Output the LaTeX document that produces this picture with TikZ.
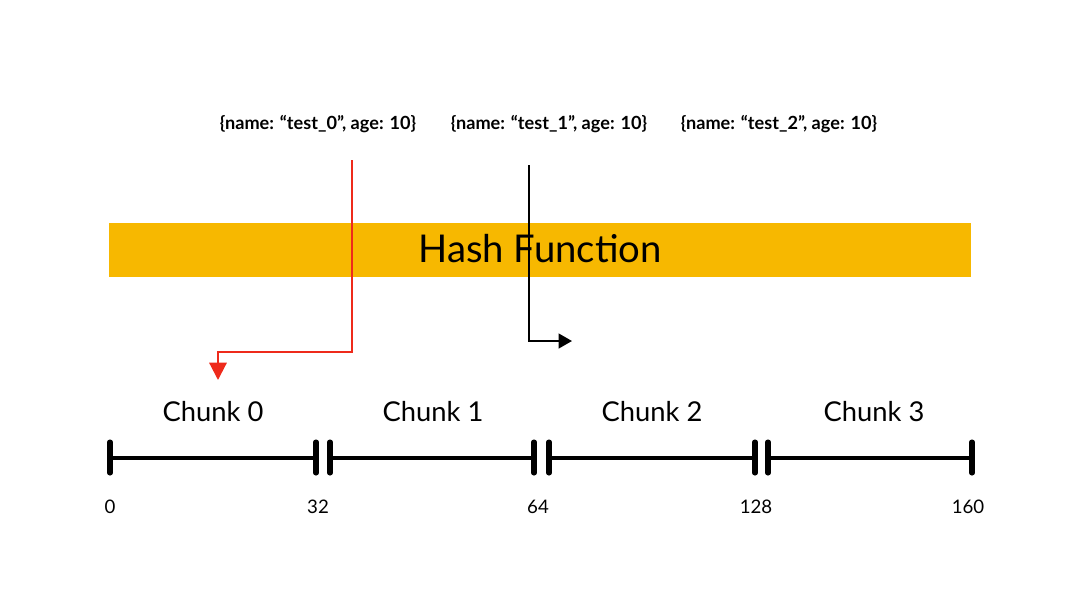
\documentclass[tikz,border=0pt]{standalone}
\usepackage{fontspec}
\setmainfont{Lato}
\usetikzlibrary{arrows.meta}
\definecolor{hashyellow}{HTML}{F7B800}
\definecolor{arrowred}{HTML}{EE2A1B}
\tikzset{
  rec/.style={font=\fontsize{13.6}{15}\selectfont\bfseries, inner sep=0pt, anchor=center},
  chunklbl/.style={font=\fontsize{20.5}{23}\selectfont, inner sep=0pt},
  numlbl/.style={font=\fontsize{14}{16}\selectfont, inner sep=0pt},
  bar/.style={line width=2.8pt, line cap=round},
  tick/.style={line width=3.8pt, line cap=round},
  flow/.style={line width=1.6pt},
}
\begin{document}
\begin{tikzpicture}[x=0.75pt,y=-0.75pt]
\useasboundingbox (0,0) rectangle (1080,608);
% records
\node[rec] (r0) at (318,124) {\{name: “test\_0”, age: 10\}};
\node[rec] (r1) at (549,124) {\{name: “test\_1”, age: 10\}};
\node[rec] (r2) at (779,124) {\{name: “test\_2”, age: 10\}};
% hash function bar
\fill[hashyellow] (109,223) rectangle (971,277);
\node[font=\fontsize{28.7}{32}\selectfont, inner sep=0pt] (hash) at (540,249) {Hash Function};
% arrows
\coordinate (rs) at (352,160);
\coordinate (rc) at (352,352);
\coordinate (rt) at (218,380);
\draw[flow, arrowred, -{Triangle[length=13pt,width=13pt]}] (rs) -- (rc) -| (rt);
\coordinate (bs) at (529,165);
\coordinate (bc) at (529,341);
\coordinate (bt) at (572,341);
\draw[flow, black, -{Triangle[length=10pt,width=11pt]}] (bs) -- (bc) -- (bt);
% chunk labels
\node[chunklbl] (c0) at (213,412) {Chunk 0};
\node[chunklbl] (c1) at (433,412) {Chunk 1};
\node[chunklbl] (c2) at (652,412) {Chunk 2};
\node[chunklbl] (c3) at (874,412) {Chunk 3};
% bars
\foreach \a/\b in {110/316, 330/534, 549/755, 768/972}{
  \draw[bar] (\a,458) -- (\b,458);
  \draw[tick] (\a,442) -- (\a,473);
  \draw[tick] (\b,442) -- (\b,473);
}
% numbers
\node[numlbl] (n0) at (110,507) {0};
\node[numlbl] (n32) at (318,507) {32};
\node[numlbl] (n64) at (538,507) {64};
\node[numlbl] (n128) at (756,507) {128};
\node[numlbl] (n160) at (968,507) {160};
\end{tikzpicture}
\end{document}
